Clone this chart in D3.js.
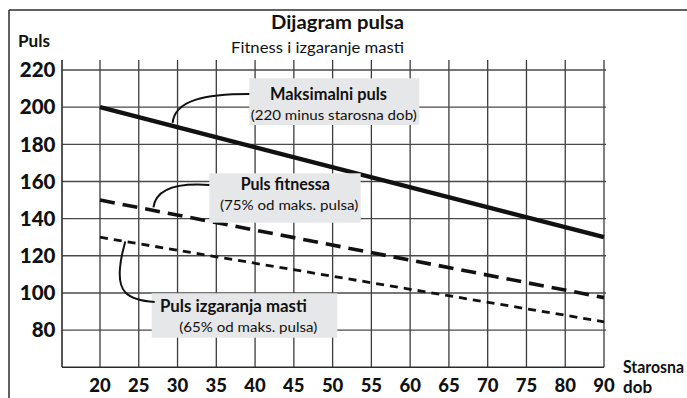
<!DOCTYPE html>
<html>
<head>
<meta charset="utf-8">
<script src="https://cdn.jsdelivr.net/npm/d3@7"></script>
<style>
  html, body { margin: 0; padding: 0; background: #fff; }
  svg { display: block; }
  text { font-family: Lato, "Open Sans", sans-serif; fill: #111; }
</style>
</head>
<body>
<svg id="chart" width="687" height="398"></svg>
<script>
// Axis tick labels (the last grid column is labelled 90)
const xTickLabels = ["20", "25", "30", "35", "40", "45", "50", "55", "60", "65", "70", "75", "80", "90"];
const yTickValues = [80, 100, 120, 140, 160, 180, 200, 220];

// Ages at the ends of each straight line
const ages = [20, 90];
// Heart rate series (beats per minute)
const maxPulse = [200, 130];      // 220 minus age
const fitnessPulse = [150, 97.5]; // 75% of max
const fatBurnPulse = [130, 84.5]; // 65% of max

const title = "Dijagram pulsa";
const subtitle = "Fitness i izgaranje masti";
const yTitle = "Puls";
const xTitle = ["Starosna", "dob"];

const annotations = [
  { title: "Maksimalni puls", note: "(220 minus starosna dob)" },
  { title: "Puls fitnessa", note: "(75% od maks. pulsa)" },
  { title: "Puls izgaranja masti", note: "(65% od maks. pulsa)" }
];

const svg = d3.select("#chart");
const W = 687, H = 398;

const plot = { left: 62, right: 604, top: 70, bottom: 367.3, gridTop: 60 };

const x = d3.scalePoint().domain(xTickLabels).range([100, plot.right]);
const y = d3.scaleLinear().domain([60, 220]).range([plot.bottom, plot.top]);

const ink = "#2b2b2b";

// outer frame (top and left rules)
svg.append("line").attr("x1", 9).attr("x2", W).attr("y1", 10).attr("y2", 10)
  .attr("stroke", ink).attr("stroke-width", 1.5);
svg.append("line").attr("x1", 9).attr("x2", 9).attr("y1", 10).attr("y2", H)
  .attr("stroke", ink).attr("stroke-width", 1.5);

// grid
const grid = svg.append("g");
grid.selectAll("line.v").data(xTickLabels).join("line")
  .attr("class", "v")
  .attr("x1", d => x(d)).attr("x2", d => x(d))
  .attr("y1", plot.gridTop).attr("y2", plot.bottom)
  .attr("stroke", "#3c3c3c").attr("stroke-width", 1.3);
grid.selectAll("line.h").data(yTickValues).join("line")
  .attr("class", "h")
  .attr("x1", plot.left).attr("x2", plot.right + 2)
  .attr("y1", d => y(d)).attr("y2", d => y(d))
  .attr("stroke", "#4a4a4a").attr("stroke-width", 1.4);

// axes lines
svg.append("line").attr("x1", plot.left).attr("x2", plot.left)
  .attr("y1", plot.gridTop).attr("y2", plot.bottom)
  .attr("stroke", ink).attr("stroke-width", 1.6);
svg.append("line").attr("x1", plot.left).attr("x2", plot.right)
  .attr("y1", plot.bottom).attr("y2", plot.bottom)
  .attr("stroke", ink).attr("stroke-width", 1.6);

// tick labels
svg.append("g").selectAll("text").data(yTickValues).join("text")
  .attr("x", 55.5).attr("y", d => y(d) + 7.3)
  .attr("text-anchor", "end")
  .attr("font-size", 20.5).attr("font-weight", 900)
  .text(d => d);
svg.append("g").selectAll("text").data(xTickLabels).join("text")
  .attr("x", d => x(d)).attr("y", 392)
  .attr("text-anchor", "middle")
  .attr("font-size", 18.5).attr("font-weight", 900)
  .text(d => d);

// fixed-width text helper
function label(g, txt, x0, y0, size, weight, width) {
  return g.append("text").attr("x", x0).attr("y", y0)
    .attr("font-size", size).attr("font-weight", weight)
    .attr("textLength", width).attr("lengthAdjust", "spacingAndGlyphs")
    .text(txt);
}

// titles
label(svg, title, 271, 28.5, 19, 700, 133);
label(svg, subtitle, 231, 52.5, 16, 400, 173);
label(svg, yTitle, 18, 47, 17, 700, 32);
label(svg, xTitle[0], 623, 373, 16.5, 700, 61);
svg.append("text").attr("x", 623).attr("y", 393)
  .attr("font-size", 17).attr("font-weight", 700).text(xTitle[1]);

// series lines
const series = [
  { values: maxPulse, width: 4.4, dash: null },
  { values: fitnessPulse, width: 3.6, dash: "15,8" },
  { values: fatBurnPulse, width: 2.8, dash: "8,6" }
];
const lineGen = d3.line().x(d => x(String(d[0]))).y(d => y(d[1]));
svg.append("g").selectAll("path").data(series).join("path")
  .attr("d", s => lineGen(ages.map((a, i) => [a, s.values[i]])))
  .attr("fill", "none").attr("stroke", "#111")
  .attr("stroke-width", s => s.width)
  .attr("stroke-dasharray", s => s.dash);

// point along a series at fraction t of its length
function along(s, t) {
  const x0 = x(String(ages[0])), x1 = x(String(ages[1]));
  const y0 = y(s.values[0]), y1 = y(s.values[1]);
  return [x0 + (x1 - x0) * t, y0 + (y1 - y0) * t];
}

// annotation boxes: title line and note line with their extents
const boxes = [
  { x: 249.3, y: 78.3, w: 170, h: 46.7, t1: [270, 99.5, 117], t2: [250.7, 120, 166] },
  { x: 209.3, y: 173.3, w: 151.4, h: 49.4, t1: [240.7, 190, 89.3], t2: [220, 210, 138.3] },
  { x: 151.7, y: 293.3, w: 185.6, h: 44.4, t1: [160, 312.3, 146.7], t2: [179.3, 332.3, 138] }
];
const ag = svg.append("g");
boxes.forEach((b, i) => {
  ag.append("rect").attr("x", b.x).attr("y", b.y).attr("width", b.w).attr("height", b.h)
    .attr("fill", "#e6e7e8");
  label(ag, annotations[i].title, b.t1[0], b.t1[1], 16.5, 700, b.t1[2]);
  label(ag, annotations[i].note, b.t2[0], b.t2[1], 13.5, 400, b.t2[2]);
});

// leader curves from boxes to lines
const p1 = along(series[0], 0.144), p2 = along(series[1], 0.106), p3 = along(series[2], 0.05);
const leaders = [
  `M${boxes[0].x},94 C205,94 175,100 ${p1[0]},${p1[1] - 3}`,
  `M${boxes[1].x},185 C180,183 156,188 ${p2[0]},${p2[1] - 3}`,
  `M${boxes[2].x + 3},302 C125,300 118,290 120,268 C121,255 124,248 ${p3[0]},${p3[1]}`
];
ag.selectAll("path").data(leaders).join("path")
  .attr("d", d => d).attr("fill", "none").attr("stroke", "#111").attr("stroke-width", 2);
</script>
</body>
</html>
